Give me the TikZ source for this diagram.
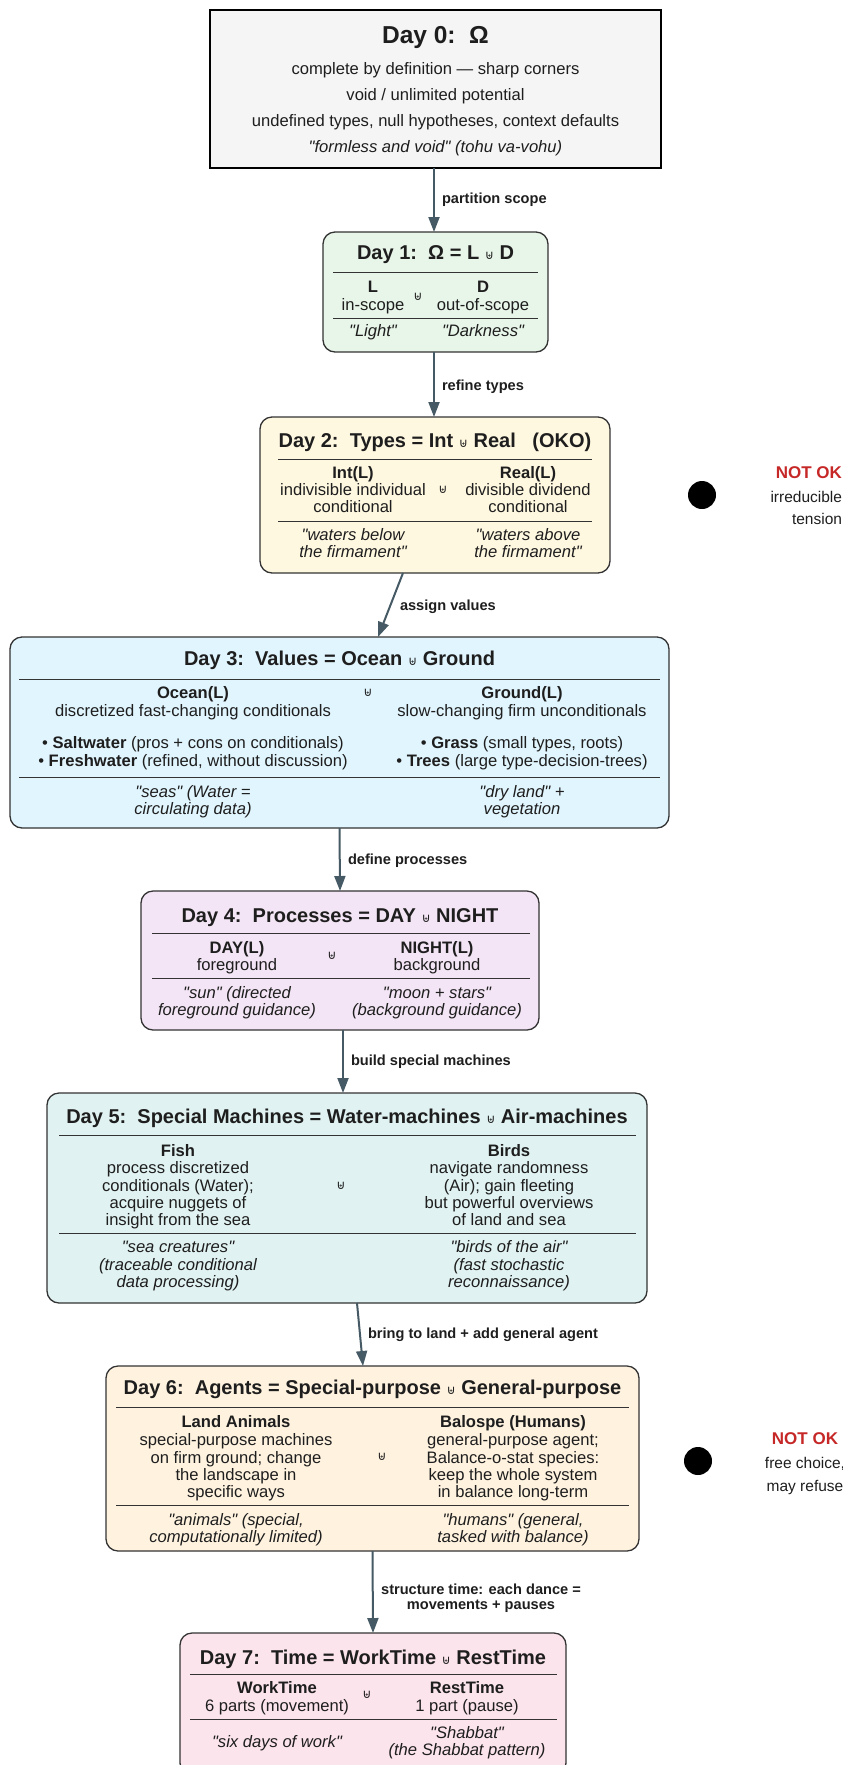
\documentclass[tikz,border=0pt]{standalone}
\usepackage{fontspec}
\setmainfont{Liberation Sans}[Ligatures=TeXOff]
\newfontfamily\djv{DejaVu Sans}[Ligatures=TeXOff]
\usetikzlibrary{arrows.meta}
\definecolor{ink}{HTML}{1E1E1E}
\definecolor{boxline}{HTML}{333333}
\definecolor{arrowc}{HTML}{455A64}
\definecolor{notok}{HTML}{C62828}
\definecolor{cz}{HTML}{F5F5F5}
\definecolor{ca}{HTML}{E8F5E9}
\definecolor{cb}{HTML}{FFF8E1}
\definecolor{cc}{HTML}{E1F5FE}
\definecolor{cd}{HTML}{F3E5F5}
\definecolor{ce}{HTML}{E0F2F1}
\definecolor{cf}{HTML}{FFF3E0}
\definecolor{cg}{HTML}{FCE4EC}
\newcommand\UU{{\mdseries\upshape\djv\fontsize{12.5}{12}\selectfont ⊎}}
\newcounter{tlc}
\newcommand\tline[4][]{\stepcounter{tlc}\edef\tlname{t\arabic{tlc}}\node[txt,#1] (\tlname) at (#2,#3) {#4};}
\begin{document}
\begin{tikzpicture}[x=1pt,y=-1pt,
 box/.style={draw=boxline, line width=1.3pt, rounded corners=12pt, inner sep=0pt, outer sep=0pt},
 txt/.style={inner sep=0pt, outer sep=0pt, anchor=base, text=ink, font=\fontsize{16.6}{18}\selectfont},
 ttl/.style={font=\bfseries\fontsize{20}{22}\selectfont},
 bld/.style={font=\bfseries\fontsize{16.6}{18}\selectfont},
 itl/.style={font=\itshape\fontsize{16.6}{18}\selectfont},
 lab/.style={font=\bfseries\fontsize{14.6}{15}\selectfont},
 arr/.style={draw=arrowc, line width=2pt, -{Triangle[length=15pt,width=11pt]}},
 rule/.style={draw=boxline, line width=1pt},
 uu/.style={inner sep=0pt, outer sep=0pt, text=ink, font=\djv\fontsize{12.5}{12}\selectfont},
 dot/.style={circle, fill=black, minimum size=28pt, inner sep=0pt},
]
\useasboundingbox (0,0) rectangle (843,1765);

% boxes
\node[draw=black, line width=2pt, fill=cz, inner sep=0pt, outer sep=0pt, minimum width=451pt, minimum height=158pt] (d0) at (435.5,89) {};
\node[box, fill=ca, minimum width=225pt, minimum height=120pt] (d1) at (435.5,292) {};
\node[box, fill=cb, minimum width=350pt, minimum height=156pt] (d2) at (435,495) {};
\node[box, fill=cc, minimum width=659pt, minimum height=191pt] (d3) at (339.5,732.5) {};
\node[box, fill=cd, minimum width=398pt, minimum height=139pt] (d4) at (340,960.5) {};
\node[box, fill=ce, minimum width=600pt, minimum height=210pt] (d5) at (347,1198) {};
\node[box, fill=cf, minimum width=533pt, minimum height=185pt] (d6) at (372.5,1458.5) {};
\node[box, fill=cg, minimum width=386pt, minimum height=142pt] (d7) at (373,1704) {};

% Day 0
\tline[font=\bfseries\fontsize{24.5}{26}\selectfont]{435.5}{43}{Day 0:~~Ω}
\tline{435.5}{74}{complete by definition — sharp corners}
\tline{435.5}{100}{void / unlimited potential}
\tline{435.5}{126}{undefined types, null hypotheses, context defaults}
\tline[itl]{435.5}{152}{"formless and void" (tohu va-vohu)}

% Day 1
\tline[ttl]{435.5}{259}{Day 1:~~Ω = L \UU{} D}
\draw[rule] (333,272) -- (538,272);
\draw[rule] (333,318) -- (538,318);
\tline[bld]{373}{292}{L}
\tline{373}{310}{in-scope}
\tline[bld]{483}{292}{D}
\tline{483}{310}{out-of-scope}
\node[uu] (u1) at (418,297) {⊎};
\tline[itl]{373}{336}{"Light"}
\tline[itl]{483}{336}{"Darkness"}

% Day 2
\tline[ttl]{435}{447}{Day 2:~~Types = Int \UU{} Real~~~(OKO)}
\draw[rule] (278,459) -- (592,459);
\draw[rule] (278,521) -- (592,521);
\tline[bld]{353}{478}{Int(L)}
\tline{353}{495}{indivisible individual}
\tline{353}{512}{conditional}
\tline[bld]{528}{478}{Real(L)}
\tline{528}{495}{divisible dividend}
\tline{528}{512}{conditional}
\node[uu] (u2) at (443,490) {⊎};
\tline[itl]{353}{540}{"waters below}
\tline[itl]{353}{557}{the firmament"}
\tline[itl]{528}{540}{"waters above}
\tline[itl]{528}{557}{the firmament"}

% Day 2 side note
\node[dot] (dot1) at (702,495) {};
\node[txt, anchor=base east, text=notok, font=\bfseries\fontsize{17}{18}\selectfont] (n1) at (842,478) {NOT OK};
\node[txt, anchor=base east, font=\fontsize{15.5}{17}\selectfont] (n2) at (842,502) {irreducible};
\node[txt, anchor=base east, font=\fontsize{15.5}{17}\selectfont] (n3) at (842,524) {tension};

% Day 3
\tline[ttl]{339.5}{665}{Day 3:~~Values = Ocean \UU{} Ground}
\draw[rule] (19,679) -- (660,679);
\draw[rule] (19,777) -- (660,777);
\tline[bld]{193}{698}{Ocean(L)}
\tline{193}{716}{discretized fast-changing conditionals}
\tline{193}{748}{• \textbf{Saltwater} (pros + cons on conditionals)}
\tline{193}{766}{• \textbf{Freshwater} (refined, without discussion)}
\tline[bld]{522}{698}{Ground(L)}
\tline{522}{716}{slow-changing firm unconditionals}
\tline{522}{748}{• \textbf{Grass} (small types, roots)}
\tline{522}{766}{• \textbf{Trees} (large type-decision-trees)}
\node[uu] (u3) at (368,693) {⊎};
\tline[itl]{193}{797}{"seas" (Water =}
\tline[itl]{193}{814}{circulating data)}
\tline[itl]{522}{797}{"dry land" +}
\tline[itl]{522}{814}{vegetation}

% Day 4
\tline[ttl]{340}{922}{Day 4:~~Processes = DAY \UU{} NIGHT}
\draw[rule] (152,933) -- (530,933);
\draw[rule] (152,978) -- (530,978);
\tline[bld]{237}{953}{DAY(L)}
\tline{237}{970}{foreground}
\tline[bld]{437}{953}{NIGHT(L)}
\tline{437}{970}{background}
\node[uu] (u4) at (332,956) {⊎};
\tline[itl]{237}{998}{"sun" (directed}
\tline[itl]{237}{1015}{foreground guidance)}
\tline[itl]{437}{998}{"moon + stars"}
\tline[itl]{437}{1015}{(background guidance)}

% Day 5
\tline[ttl]{347}{1123}{Day 5:~~Special Machines = Water-machines \UU{} Air-machines}
\draw[rule] (59,1135) -- (636,1135);
\draw[rule] (59,1233) -- (636,1233);
\tline[bld]{178}{1156}{Fish}
\tline{178}{1173}{process discretized}
\tline{178}{1191}{conditionals (Water);}
\tline{178}{1208}{acquire nuggets of}
\tline{178}{1225}{insight from the sea}
\tline[bld]{509}{1156}{Birds}
\tline{509}{1173}{navigate randomness}
\tline{509}{1191}{(Air); gain fleeting}
\tline{509}{1208}{but powerful overviews}
\tline{509}{1225}{of land and sea}
\node[uu] (u5) at (341,1186) {⊎};
\tline[itl]{178}{1252}{"sea creatures"}
\tline[itl]{178}{1270}{(traceable conditional}
\tline[itl]{178}{1287}{data processing)}
\tline[itl]{509}{1252}{"birds of the air"}
\tline[itl]{509}{1270}{(fast stochastic}
\tline[itl]{509}{1287}{reconnaissance)}

% Day 6
\tline[ttl]{372.5}{1394}{Day 6:~~Agents = Special-purpose \UU{} General-purpose}
\draw[rule] (116,1407) -- (629,1407);
\draw[rule] (116,1505) -- (629,1505);
\tline[bld]{236}{1427}{Land Animals}
\tline{236}{1445}{special-purpose machines}
\tline{236}{1463}{on firm ground; change}
\tline{236}{1480}{the landscape in}
\tline{236}{1497}{specific ways}
\tline[bld]{513}{1427}{Balospe (Humans)}
\tline{513}{1445}{general-purpose agent;}
\tline{513}{1463}{Balance-o-stat species:}
\tline{513}{1480}{keep the whole system}
\tline{513}{1497}{in balance long-term}
\node[uu] (u6) at (382,1457) {⊎};
\tline[itl]{236}{1525}{"animals" (special,}
\tline[itl]{236}{1542}{computationally limited)}
\tline[itl]{513}{1525}{"humans" (general,}
\tline[itl]{513}{1542}{tasked with balance)}

% Day 6 side note
\node[dot] (dot2) at (698,1461) {};
\node[txt, text=notok, font=\bfseries\fontsize{17}{18}\selectfont] (n4) at (805,1444) {NOT OK};
\node[txt, font=\fontsize{15.5}{17}\selectfont] (n5) at (805,1468) {free choice,};
\node[txt, font=\fontsize{15.5}{17}\selectfont] (n6) at (805,1491) {may refuse};

% Day 7
\tline[ttl]{373}{1664}{Day 7:~~Time = WorkTime \UU{} RestTime}
\draw[rule] (190,1674) -- (557,1674);
\draw[rule] (190,1719) -- (557,1719);
\tline[bld]{277}{1693}{WorkTime}
\tline{277}{1711}{6 parts (movement)}
\tline[bld]{467}{1693}{RestTime}
\tline{467}{1711}{1 part (pause)}
\node[uu] (u7) at (367,1695) {⊎};
\tline[itl]{277}{1747}{"six days of work"}
\tline[itl]{467}{1738}{"Shabbat"}
\tline[itl]{467}{1755}{(the Shabbat pattern)}

% connectors
\draw[arr] ([xshift=-1.5pt]d0.south) -- ([xshift=-1.5pt]d1.north);
\draw[arr] ([xshift=-1.5pt]d1.south) -- ([xshift=-1pt]d2.north);
\draw[arr] ([xshift=-32pt]d2.south) -- ([xshift=38.5pt]d3.north);
\draw[arr] (d3.south) -- (d4.north);
\draw[arr] ([xshift=3pt]d4.south) -- ([xshift=-4pt]d5.north);
\draw[arr] ([xshift=10pt]d5.south) -- ([xshift=-9.5pt]d6.north);
\draw[arr] (d6.south) -- (d7.north);

% connector labels
\node[txt, lab, anchor=base west] (l1) at (442,203) {partition scope};
\node[txt, lab, anchor=base west] (l2) at (442,390) {refine types};
\node[txt, lab, anchor=base west] (l3) at (400,610) {assign values};
\node[txt, lab, anchor=base west] (l4) at (348,864) {define processes};
\node[txt, lab, anchor=base west] (l5) at (351,1065) {build special machines};
\node[txt, lab, anchor=base west] (l6) at (368,1338) {bring to land + add general agent};
\node[txt, lab] (l7) at (481,1594) {structure time: each dance =};
\node[txt, lab] (l8) at (481,1609) {movements + pauses};
\end{tikzpicture}
\end{document}
